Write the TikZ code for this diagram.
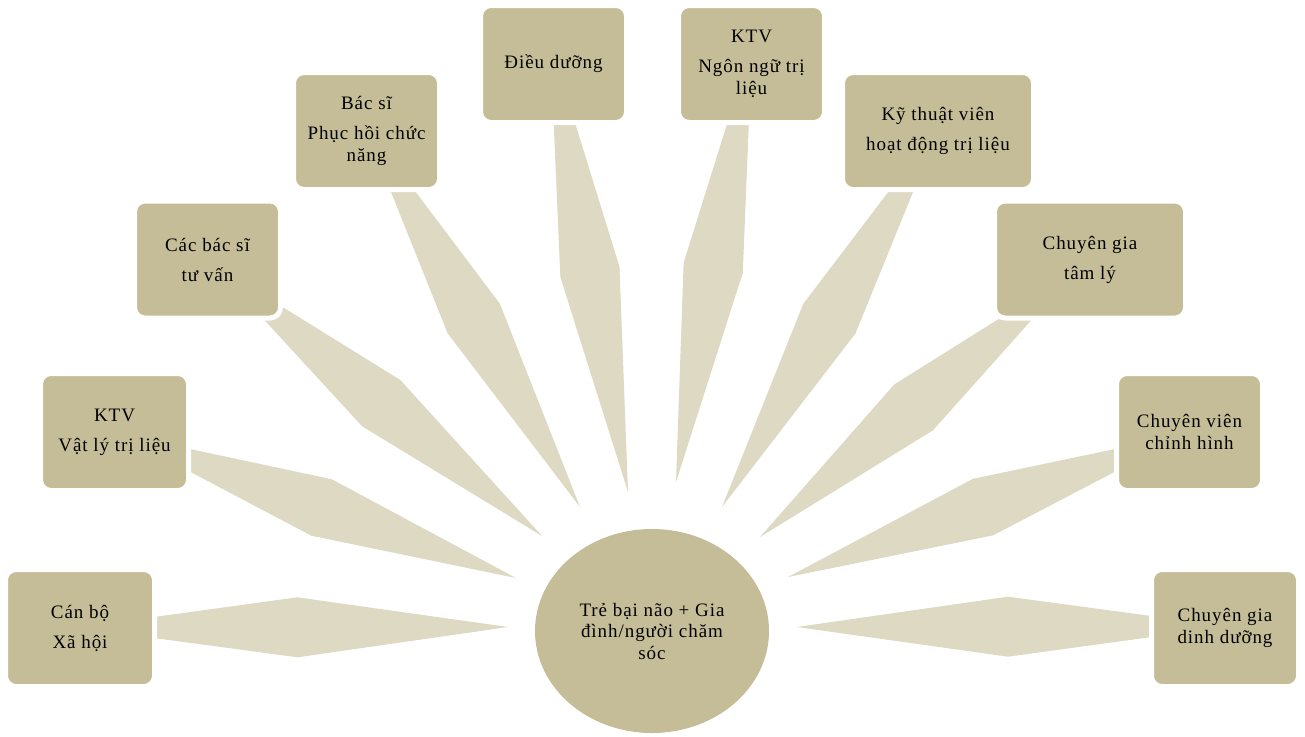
\documentclass[tikz,border=0pt]{standalone}
\usepackage{fontspec}
\setmainfont{Liberation Serif}[LetterSpace=5]
\usetikzlibrary{calc,shapes.geometric}
\definecolor{boxtan}{HTML}{C4BD97}
\definecolor{raytan}{HTML}{DDD9C3}
\newcommand\myray[2]{%
  \fill[raytan] ($(#1)!-14pt!(#2)!9pt!90:(#2)$) -- ($(#1)!0.4!(#2)!30pt!90:(#2)$) -- (#2) -- ($(#1)!0.4!(#2)!30pt!-90:(#2)$) -- ($(#1)!-14pt!(#2)!9pt!-90:(#2)$) -- cycle;}
\tikzset{
  rolebox/.style={rectangle, rounded corners=10.5pt, fill=boxtan, draw=white, line width=5pt,
    inner sep=0pt, align=center, text=black, minimum height=117pt,
    font=\fontsize{19}{22}\selectfont},
  hubnode/.style={ellipse, fill=boxtan, inner sep=0pt, align=center, text=black,
    minimum width=234pt, minimum height=204pt, font=\fontsize{19}{21.5}\selectfont}
}
\begin{document}
\begin{tikzpicture}[x=1pt,y=-1pt]
\useasboundingbox (0,0) rectangle (1305,736);
\fill[white] (0,0) rectangle (1305,736);
% ray end points
\coordinate (b1) at (157,627.5);  \coordinate (t1) at (508,627);
\coordinate (b2) at (192,460.5);  \coordinate (t2) at (516,578);
\coordinate (b3) at (274,314.5);  \coordinate (t3) at (542,536);
\coordinate (b4) at (403,193);    \coordinate (t4) at (580,507);
\coordinate (b5) at (564.5,125);  \coordinate (t5) at (628,492);
\coordinate (b6) at (738,125);    \coordinate (t6) at (676,482);
\coordinate (b7) at (901,193);    \coordinate (t7) at (722,507);
\coordinate (b8) at (1016,321);   \coordinate (t8) at (760,537);
\coordinate (b9) at (1113,460.5); \coordinate (t9) at (788,577);
\coordinate (b10) at (1148.5,626.5); \coordinate (t10) at (797,627);
\foreach \i in {1,...,10} {\myray{b\i}{t\i}}
% boxes
\node[rolebox, minimum width=149pt] (canbo) at (80,628) {Cán bộ\\[8pt]Xã hội};
\node[rolebox, minimum width=148pt] (ktvvl) at (114.5,432) {KTV\\[8pt]Vật lý trị liệu};
\node[rolebox, minimum width=146pt] (cacbs) at (207.5,259.5) {Các bác sĩ\\[8pt]tư vấn};
\node[rolebox, minimum width=146pt] (bsphcn) at (366.5,131) {Bác sĩ\\[8pt]Phục hồi chức\\năng};
\node[rolebox, minimum width=146pt] (dieuduong) at (553.5,64) {Điều dưỡng};
\node[rolebox, minimum width=146pt] (ktvnn) at (751.5,64) {KTV\\[8pt]Ngôn ngữ trị\\liệu};
\node[rolebox, minimum width=191pt] (ktvhd) at (938,131) {Kỹ thuật viên\\[8pt]hoạt động trị liệu};
\node[rolebox, minimum width=191pt] (cgtl) at (1090,259.5) {Chuyên gia\\[8pt]tâm lý};
\node[rolebox, minimum width=146pt] (cvch) at (1189.5,432) {Chuyên viên\\chỉnh hình};
\node[rolebox, minimum width=147pt] (cgdd) at (1225,628) {Chuyên gia\\dinh dưỡng};
% hub
\node[hubnode] (hub) at (652,631) {Trẻ bại não + Gia\\đình/người chăm\\sóc};
\end{tikzpicture}
\end{document}
